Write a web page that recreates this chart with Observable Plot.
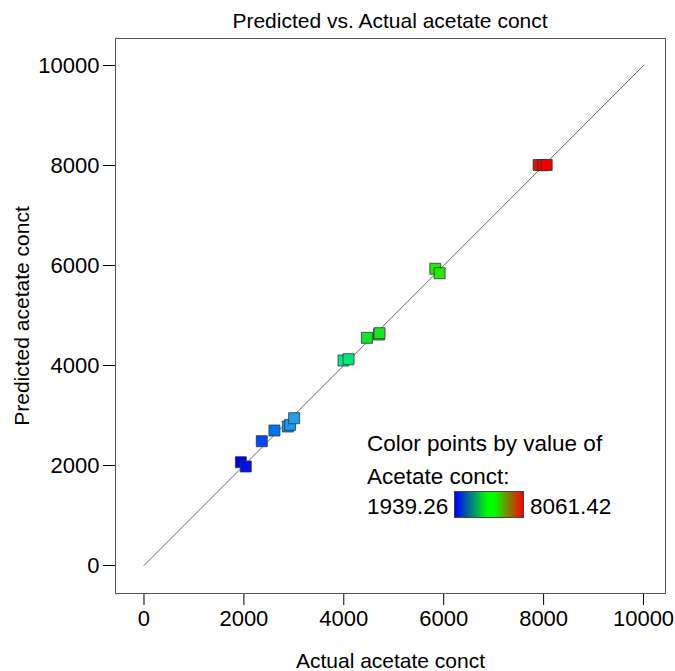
<!DOCTYPE html>
<html>
<head>
<meta charset="utf-8">
<script src="https://cdn.jsdelivr.net/npm/d3@7"></script>
<script src="https://cdn.jsdelivr.net/npm/@observablehq/plot@0.6"></script>
<style>
  html, body { margin: 0; padding: 0; background: #fff; }
  body { font-family: "Liberation Sans", Arial, sans-serif; color: #000; }
  #wrap { position: relative; width: 675px; height: 671px; overflow: hidden; }
  #title { box-sizing: border-box; height: 30px; padding-top: 9px; padding-left: 115px; padding-right: 10px;
           text-align: center; font-size: 21px; line-height: 23px; white-space: nowrap; }
  #legend { position: absolute; left: 367px; top: 0; font-size: 22.5px; white-space: nowrap; }
  #legend .line { position: absolute; left: 0; line-height: 22px; }
  #legend .bar { position: absolute; border: 1px solid #444; box-sizing: border-box; }
  svg { display: block; }
</style>
</head>
<body>
<div id="wrap">
  <div id="title"></div>
  <div id="chart"></div>
  <div id="legend"></div>
</div>
<script>
// ---- data ----
const chartTitle = "Predicted vs. Actual acetate conct";
const xTitle = "Actual acetate conct";
const yTitle = "Predicted acetate conct";
const actual    = [1939.26, 2038, 2358, 2612, 2880, 2926, 3006, 3995, 4095, 4463, 4703, 4715, 5832, 5918, 7900, 7990, 8061.42];
const predicted = [2066, 1980, 2486, 2700, 2780, 2814, 2946, 4100, 4126, 4554, 4620, 4646, 5934, 5846, 8010, 8005, 8012];
const refLine = [0, 10000];
const xTicks = [0, 2000, 4000, 6000, 8000, 10000];
const yTicks = [0, 2000, 4000, 6000, 8000, 10000];
const colorMin = 1939.26, colorMax = 8061.42;
const legendLines = ["Color points by value of", "Acetate conct:"];
const legendMin = "1939.26", legendMax = "8061.42";
const colorStops = [colorMin, 2400, 2700, 3000, 4000, 4500, 6000, colorMax];
const colorRange = ["#0000e6", "#0050f5", "#0082f0", "#1ea0f0", "#00e68c", "#14e628", "#28e600", "#f00000"];

const data = actual.map((a, i) => ({actual: a, predicted: predicted[i]}));

document.getElementById("title").textContent = chartTitle;

const chart = Plot.plot({
  width: 675,
  height: 641,
  marginLeft: 115,
  marginRight: 10,
  marginTop: 8,
  marginBottom: 78,
  style: {fontFamily: "'Liberation Sans', Arial, sans-serif", fontSize: "22px", background: "white", color: "black", overflow: "visible"},
  x: {domain: [-570, 10440], ticks: xTicks, tickFormat: d => String(d), tickSize: 12, tickPadding: 5, label: null},
  y: {domain: [-560, 10540], ticks: yTicks, tickFormat: d => String(d), tickSize: 12, tickPadding: 4, label: null},
  color: {type: "linear", domain: colorStops, range: colorRange},
  marks: [
    Plot.frame({stroke: "#555", strokeWidth: 1}),
    Plot.line(refLine, {x: d => d, y: d => d, stroke: "#666", strokeWidth: 1}),
    Plot.dot(data, {x: "actual", y: "predicted", fill: "actual", stroke: "#333", strokeWidth: 0.8, symbol: "square", r: 6.2}),
    Plot.text([xTitle], {text: d => d, frameAnchor: "bottom", textAnchor: "middle", lineAnchor: "middle", dy: 68, fontSize: 21}),
    Plot.text([yTitle], {text: d => d, frameAnchor: "left", textAnchor: "middle", lineAnchor: "middle", rotate: -90, dx: -93, fontSize: 21})
  ]
});
document.getElementById("chart").appendChild(chart);

// legend
const legend = document.getElementById("legend");
const tops = [433, 466];
legendLines.forEach((t, i) => {
  const el = document.createElement("div");
  el.className = "line"; el.style.top = tops[i] + "px"; el.textContent = t;
  legend.appendChild(el);
});
const minEl = document.createElement("div");
minEl.className = "line"; minEl.style.top = "496px"; minEl.textContent = legendMin;
legend.appendChild(minEl);
const bar = document.createElement("div");
bar.className = "bar";
bar.style.left = (454 - 367) + "px"; bar.style.top = "491px";
bar.style.width = "70px"; bar.style.height = "27px";
bar.style.background = "linear-gradient(to right, #0000ff 0%, #00ff00 48%, #00ff00 58%, #ff0000 100%)";
legend.appendChild(bar);
const maxEl = document.createElement("div");
maxEl.className = "line"; maxEl.style.top = "496px"; maxEl.style.left = (530 - 367) + "px"; maxEl.textContent = legendMax;
legend.appendChild(maxEl);
</script>
</body>
</html>
